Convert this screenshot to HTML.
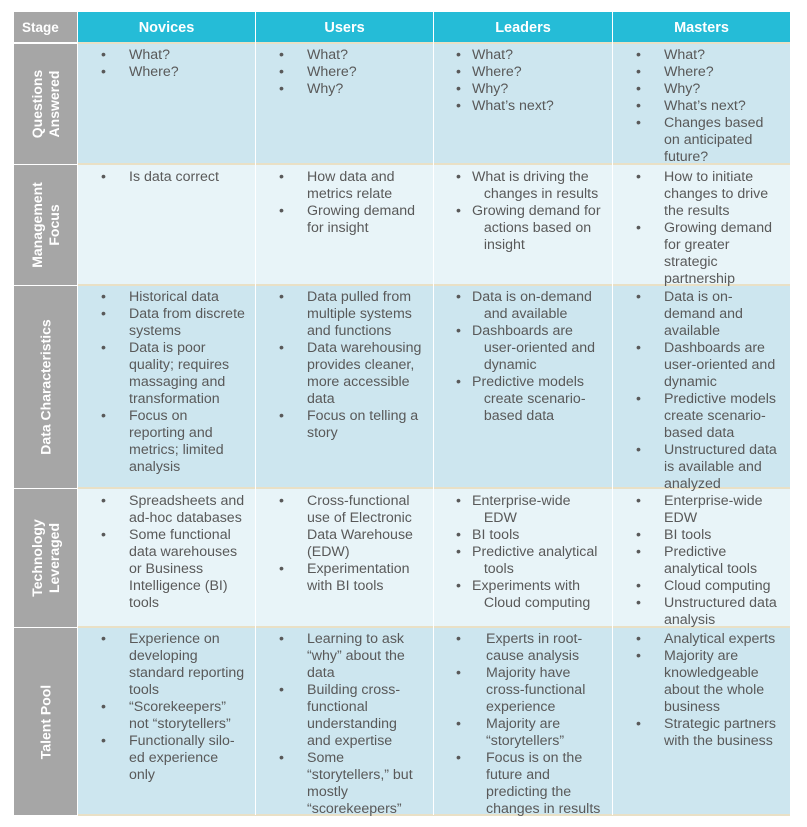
<!DOCTYPE html>
<html><head><meta charset="utf-8"><style>
body{margin:0;width:807px;height:827px;background:#fff;position:relative;font-family:"Liberation Sans",Arial,sans-serif;overflow:hidden}
.a{position:absolute;box-sizing:border-box}
.h{background:#25bcd7;color:#fff;font-weight:bold;font-size:14.5px;text-align:center;line-height:32px;top:12px;height:30px}
.s{background:#a6a6a6;left:14px;width:63px;color:#fff;font-weight:bold;font-size:14px}
.s div{position:absolute;left:50%;top:50%;transform:translate(-50%,-50%) rotate(-90deg);white-space:nowrap;text-align:center;line-height:17px}
.d{background:#cde6ef}.l{background:#e8f4f8}
.c{font-size:14.2px;line-height:17px;color:#595959;white-space:nowrap;margin-top:1px}
.b{position:relative}
.b:before{content:"•";position:absolute;left:-28px;color:#595959}
.sep{position:absolute;left:78px;width:712px;height:2px;background:#e9e0c6}
.v{position:absolute;width:1px;background:#fff;top:12px;height:803px}
.L .b:before{left:-16px}
.L2 .b:before{left:-30px}
</style></head><body>
<div class="a h s" style="top:12px;height:30px;text-align:left;padding-left:8px;line-height:32px;font-size:13.5px">Stage</div>
<div class="a h" style="left:78px;width:177px">Novices</div>
<div class="a h" style="left:256px;width:177px">Users</div>
<div class="a h" style="left:434px;width:178px">Leaders</div>
<div class="a h" style="left:613px;width:177px">Masters</div>

<div class="a s" style="top:44px;height:120px"><div>Questions<br>Answered</div></div>
<div class="a s" style="top:165px;height:120px"><div>Management<br>Focus</div></div>
<div class="a s" style="top:286px;height:202px"><div>Data Characteristics</div></div>
<div class="a s" style="top:489px;height:138px"><div>Technology<br>Leveraged</div></div>
<div class="a s" style="top:628px;height:187px"><div>Talent Pool</div></div>

<div class="a d" style="left:78px;top:44px;width:712px;height:120px"></div>
<div class="a l" style="left:78px;top:165px;width:712px;height:120px"></div>
<div class="a d" style="left:78px;top:286px;width:712px;height:202px"></div>
<div class="a l" style="left:78px;top:489px;width:712px;height:138px"></div>
<div class="a d" style="left:78px;top:628px;width:712px;height:187px"></div>
<div class="sep" style="top:42px"></div><div class="sep" style="top:163px"></div><div class="sep" style="top:284px"></div><div class="sep" style="top:487px"></div><div class="sep" style="top:626px"></div><div class="sep" style="top:814px"></div>
<div class="v" style="left:77px"></div><div class="v" style="left:255px"></div><div class="v" style="left:433px"></div><div class="v" style="left:612px"></div>

<!-- Row 1 -->
<div class="a c" style="left:129px;top:46px"><div class="b">What?</div><div class="b">Where?</div></div>
<div class="a c" style="left:307px;top:46px"><div class="b">What?</div><div class="b">Where?</div><div class="b">Why?</div></div>
<div class="a c L" style="left:472px;top:46px"><div class="b">What?</div><div class="b">Where?</div><div class="b">Why?</div><div class="b">What’s next?</div></div>
<div class="a c" style="left:664px;top:46px"><div class="b">What?</div><div class="b">Where?</div><div class="b">Why?</div><div class="b">What’s next?</div><div class="b">Changes based<br>on anticipated<br>future?</div></div>
<!-- Row 2 -->
<div class="a c" style="left:129px;top:168px"><div class="b">Is data correct</div></div>
<div class="a c" style="left:307px;top:168px"><div class="b">How data and<br>metrics relate</div><div class="b">Growing demand<br>for insight</div></div>
<div class="a c L" style="left:472px;top:168px"><div class="b">What is driving the<br>&nbsp; &nbsp;changes in results</div><div class="b">Growing demand for<br>&nbsp; &nbsp;actions based on<br>&nbsp; &nbsp;insight</div></div>
<div class="a c" style="left:664px;top:168px"><div class="b">How to initiate<br>changes to drive<br>the results</div><div class="b">Growing demand<br>for greater<br>strategic<br>partnership</div></div>
<!-- Row 3 -->
<div class="a c" style="left:129px;top:288px"><div class="b">Historical data</div><div class="b">Data from discrete<br>systems</div><div class="b">Data is poor<br>quality; requires<br>massaging and<br>transformation</div><div class="b">Focus on<br>reporting and<br>metrics; limited<br>analysis</div></div>
<div class="a c" style="left:307px;top:288px"><div class="b">Data pulled from<br>multiple systems<br>and functions</div><div class="b">Data warehousing<br>provides cleaner,<br>more accessible<br>data</div><div class="b">Focus on telling a<br>story</div></div>
<div class="a c L" style="left:472px;top:288px"><div class="b">Data is on-demand<br>&nbsp; &nbsp;and available</div><div class="b">Dashboards are<br>&nbsp; &nbsp;user-oriented and<br>&nbsp; &nbsp;dynamic</div><div class="b">Predictive models<br>&nbsp; &nbsp;create scenario-<br>&nbsp; &nbsp;based data</div></div>
<div class="a c" style="left:664px;top:288px"><div class="b">Data is on-<br>demand and<br>available</div><div class="b">Dashboards are<br>user-oriented and<br>dynamic</div><div class="b">Predictive models<br>create scenario-<br>based data</div><div class="b">Unstructured data<br>is available and<br>analyzed</div></div>
<!-- Row 4 -->
<div class="a c" style="left:129px;top:492px"><div class="b">Spreadsheets and<br>ad-hoc databases</div><div class="b">Some functional<br>data warehouses<br>or Business<br>Intelligence (BI)<br>tools</div></div>
<div class="a c" style="left:307px;top:492px"><div class="b">Cross-functional<br>use of Electronic<br>Data Warehouse<br>(EDW)</div><div class="b">Experimentation<br>with BI tools</div></div>
<div class="a c L" style="left:472px;top:492px"><div class="b">Enterprise-wide<br>&nbsp; &nbsp;EDW</div><div class="b">BI tools</div><div class="b">Predictive analytical<br>&nbsp; &nbsp;tools</div><div class="b">Experiments with<br>&nbsp; &nbsp;Cloud computing</div></div>
<div class="a c" style="left:664px;top:492px"><div class="b">Enterprise-wide<br>EDW</div><div class="b">BI tools</div><div class="b">Predictive<br>analytical tools</div><div class="b">Cloud computing</div><div class="b">Unstructured data<br>analysis</div></div>
<!-- Row 5 -->
<div class="a c" style="left:129px;top:630px"><div class="b">Experience on<br>developing<br>standard reporting<br>tools</div><div class="b">“Scorekeepers”<br>not “storytellers”</div><div class="b">Functionally silo-<br>ed experience<br>only</div></div>
<div class="a c" style="left:307px;top:630px"><div class="b">Learning to ask<br>“why” about the<br>data</div><div class="b">Building cross-<br>functional<br>understanding<br>and expertise</div><div class="b">Some<br>“storytellers,” but<br>mostly<br>“scorekeepers”</div></div>
<div class="a c L2" style="left:486px;top:630px"><div class="b">Experts in root-<br>cause analysis</div><div class="b">Majority have<br>cross-functional<br>experience</div><div class="b">Majority are<br>“storytellers”</div><div class="b">Focus is on the<br>future and<br>predicting the<br>changes in results</div></div>
<div class="a c" style="left:664px;top:630px"><div class="b">Analytical experts</div><div class="b">Majority are<br>knowledgeable<br>about the whole<br>business</div><div class="b">Strategic partners<br>with the business</div></div>
</body></html>
